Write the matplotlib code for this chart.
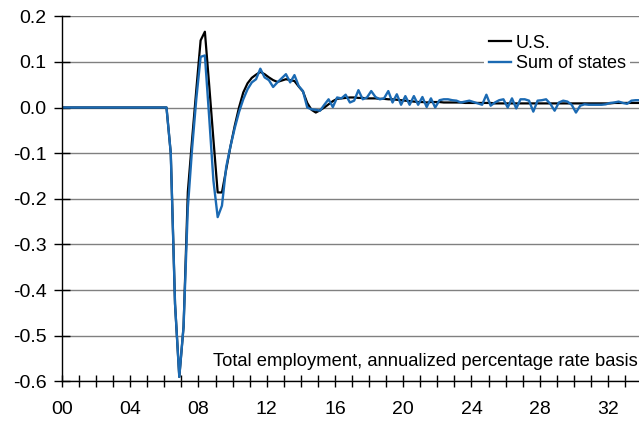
import numpy as np
import matplotlib.pyplot as plt

plt.rcParams['font.family'] = ['Liberation Sans', 'DejaVu Sans']

# quarterly values, starting 2000Q1
us = [0.0] * 25 + [
    -0.10, -0.43, -0.59, -0.48, -0.185, -0.07, 0.04, 0.147, 0.166, 0.05,
    -0.07, -0.186, -0.186, -0.135, -0.085, -0.04, 0.0, 0.033, 0.053, 0.065,
    0.072, 0.078, 0.073, 0.066, 0.06, 0.056, 0.059, 0.062, 0.06, 0.058,
    0.046, 0.035, 0.01, -0.005, -0.011, -0.006, 0.0, 0.007, 0.014, 0.019,
    0.02, 0.021, 0.022, 0.022, 0.021, 0.021, 0.02, 0.02, 0.02, 0.019,
    0.019, 0.018, 0.018, 0.017, 0.016, 0.015, 0.014, 0.013, 0.012, 0.012,
    0.011, 0.012, 0.012, 0.012, 0.011, 0.011, 0.011, 0.011, 0.011, 0.010,
    0.010, 0.010, 0.010, 0.010, 0.010, 0.010, 0.009, 0.009, 0.009, 0.009,
    0.009, 0.009, 0.009, 0.009, 0.009, 0.009, 0.009, 0.009, 0.009, 0.009,
    0.009, 0.009, 0.009, 0.009, 0.009, 0.009, 0.009, 0.009, 0.009, 0.009,
    0.009, 0.009, 0.009, 0.009, 0.01, 0.01, 0.01, 0.01, 0.01, 0.01, 0.01,
]
states = [0.0] * 25 + [
    -0.10, -0.43, -0.59, -0.48, -0.22, -0.09, 0.02, 0.111, 0.114, -0.02,
    -0.16, -0.24, -0.215, -0.13, -0.085, -0.045, -0.01, 0.018, 0.04, 0.055,
    0.062, 0.085, 0.066, 0.06, 0.045, 0.055, 0.064, 0.073, 0.055, 0.071,
    0.047, 0.036, 0.0, -0.004, -0.005, -0.007, 0.006, 0.018, 0.001, 0.022,
    0.02, 0.028, 0.011, 0.015, 0.038, 0.018, 0.022, 0.036, 0.023, 0.018,
    0.02, 0.036, 0.011, 0.029, 0.006, 0.025, 0.006, 0.025, 0.006, 0.023,
    0.001, 0.02, 0.0, 0.016, 0.018, 0.018, 0.016, 0.015, 0.011, 0.013,
    0.015, 0.012, 0.009, 0.006, 0.028, 0.004, 0.011, 0.016, 0.018, 0.0,
    0.02, -0.002, 0.018, 0.018, 0.015, -0.009, 0.015, 0.016, 0.018, 0.008,
    -0.007, 0.011, 0.015, 0.013, 0.006, -0.011, 0.004, 0.007, 0.006, 0.006,
    0.006, 0.006, 0.007, 0.01, 0.011, 0.013, 0.01, 0.008, 0.015, 0.016, 0.016,
]
year_labels = ["00", "04", "08", "12", "16", "20", "24", "28", "32"]
y_ticks = [0.2, 0.1, 0.0, -0.1, -0.2, -0.3, -0.4, -0.5, -0.6]

t = np.arange(len(us)) / 4 + 0.125

fig = plt.figure(figsize=(6.39, 4.26), dpi=100)
ax = fig.add_axes([62 / 639, 0.1045, 577 / 639, 0.8575])

ax.plot(t, us, color="black", lw=1.6, label="U.S.")
ax.plot(t, states, color="#1b6ab3", lw=1.7, label="Sum of states")

ax.set_xlim(0, 33.82)
ax.set_ylim(-0.6, 0.2)
ax.set_yticks(y_ticks)
ax.set_yticklabels([f"{v:.1f}" for v in y_ticks])
ax.set_xticks(np.arange(0, 34))
ax.set_xticklabels([year_labels[i // 4] if i % 4 == 0 else "" for i in range(34)])

# Axes styling
ax.grid(axis="y", color="#808080", lw=1.0)
ax.set_axisbelow(True)
for s in ["top", "right"]:
    ax.spines[s].set_visible(False)
for s in ["left", "bottom"]:
    ax.spines[s].set_linewidth(1.0)
    ax.spines[s].set_zorder(3)

ax.tick_params(axis="y", direction="inout", length=12, width=1, labelsize=14, pad=5)
ax.tick_params(axis="x", direction="inout", length=9, width=1, labelsize=14, pad=9.5)

ax.text(33.75, -0.557, "Total employment, annualized percentage rate basis",
        ha="right", va="center", fontsize=13.2)

ax.legend(loc="upper left", bbox_to_anchor=(484 / 639, 1 - 30 / 426),
          bbox_transform=fig.transFigure, frameon=True, facecolor="white",
          edgecolor="none", framealpha=1, fancybox=False, fontsize=13,
          handlelength=1.22, handletextpad=0.28, borderpad=0.25, labelspacing=0.2,
          borderaxespad=0)

fig.savefig("out.png", dpi=100)
